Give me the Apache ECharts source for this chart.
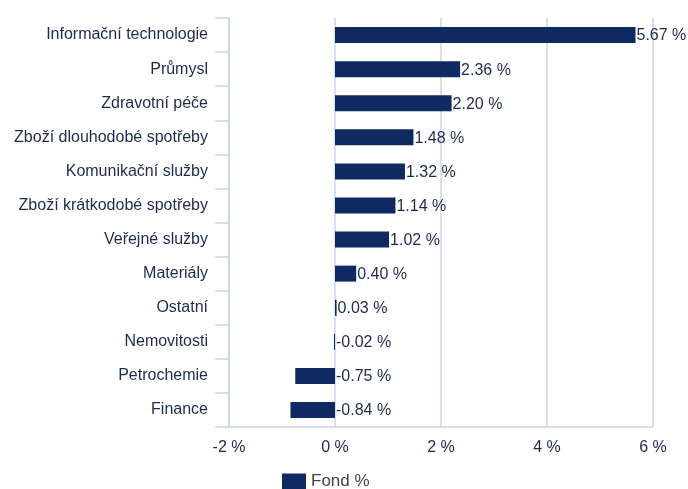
<!DOCTYPE html>
<html>
<head>
<meta charset="utf-8">
<script src="https://cdn.jsdelivr.net/npm/echarts@6/dist/echarts.min.js"></script>
<style>
  html, body { margin: 0; padding: 0; background: #fff; }
  #chart { width: 688px; height: 489px; }
</style>
</head>
<body>
<div id="chart"></div>
<script>
const categories = [
  'Informační technologie',
  'Průmysl',
  'Zdravotní péče',
  'Zboží dlouhodobé spotřeby',
  'Komunikační služby',
  'Zboží krátkodobé spotřeby',
  'Veřejné služby',
  'Materiály',
  'Ostatní',
  'Nemovitosti',
  'Petrochemie',
  'Finance'
];
const fondValues = [5.67, 2.36, 2.20, 1.48, 1.32, 1.14, 1.02, 0.40, 0.03, -0.02, -0.75, -0.84];
const xTicks = [-2, 0, 2, 4, 6];

const navy = '#0f2a60';
const textColor = '#1c2a4e';
const gridColor = '#c9d6e8';
const font = '"Liberation Sans", Arial, sans-serif';

const chart = echarts.init(document.getElementById('chart'), null, { renderer: 'canvas' });

chart.setOption({
  animation: false,
  textStyle: { fontFamily: font },
  grid: { left: 229, right: 35, top: 18, bottom: 62, containLabel: false },
  legend: {
    data: [{ name: 'Fond %', icon: 'rect' }],
    left: 282,
    top: 473,
    padding: 0,
    itemWidth: 24,
    itemHeight: 16,
    itemGap: 6,
    textStyle: { color: '#444', fontSize: 17, fontFamily: font, padding: [2, 0, 0, 0] }
  },
  xAxis: {
    type: 'value',
    min: xTicks[0],
    max: xTicks[xTicks.length - 1],
    interval: 2,
    axisLine: { show: true, lineStyle: { color: gridColor, width: 1.5 } },
    axisTick: { show: false },
    splitLine: { show: true, lineStyle: { color: gridColor, width: 1.5 } },
    axisLabel: {
      color: textColor,
      fontSize: 16,
      margin: 13,
      fontFamily: font,
      formatter: v => v + ' %'
    }
  },
  yAxis: {
    type: 'category',
    inverse: true,
    data: categories,
    axisLine: { show: true, onZero: false, lineStyle: { color: gridColor, width: 1.5 } },
    axisTick: { show: true, length: 14, lineStyle: { color: gridColor, width: 1.5 } },
    axisLabel: { color: textColor, fontSize: 16, margin: 21, fontFamily: font, padding: [3, 0, 0, 0] }
  },
  series: [{
    name: 'Fond %',
    type: 'bar',
    data: fondValues,
    barWidth: 16,
    itemStyle: { color: navy },
    label: {
      show: true,
      position: 'right',
      distance: 1,
      offset: [0, 1],
      color: textColor,
      fontSize: 16,
      fontFamily: font,
      formatter: p => p.value.toFixed(2) + ' %'
    }
  }]
});
</script>
</body>
</html>
